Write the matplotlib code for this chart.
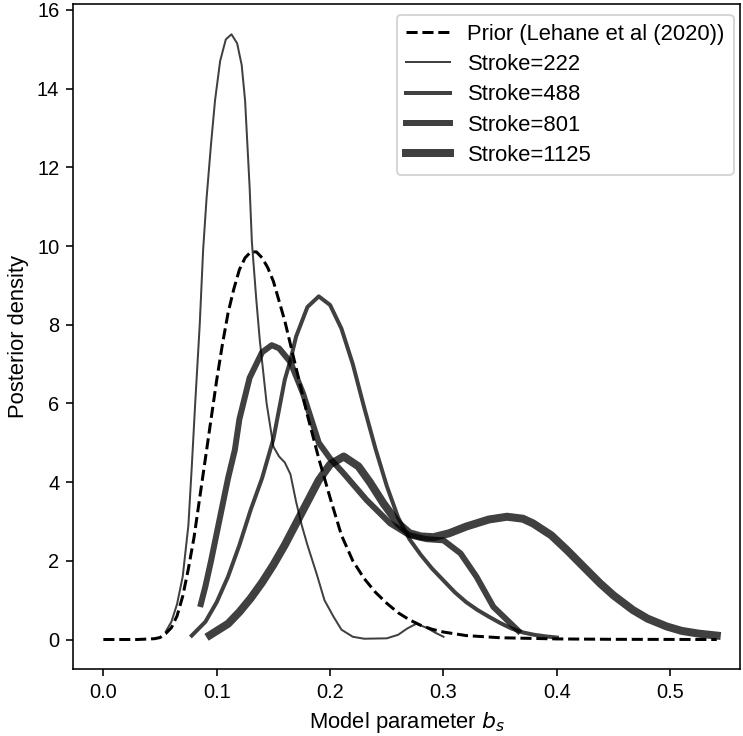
import matplotlib
matplotlib.use("Agg")
import matplotlib.pyplot as plt

plt.rcParams["font.family"] = ["Liberation Sans", "DejaVu Sans"]
plt.rcParams["font.size"] = 10

# ── Data ─────────────────────────────────────────────────────────────────────

prior_x = [0.0, 0.03, 0.045, 0.05, 0.055, 0.06, 0.065, 0.07, 0.075, 0.08, 0.085,
           0.09, 0.095, 0.10, 0.105, 0.11, 0.115, 0.12, 0.125, 0.13, 0.135, 0.14,
           0.145, 0.15, 0.16, 0.17, 0.18, 0.19, 0.20, 0.21, 0.22, 0.23, 0.24,
           0.25, 0.26, 0.27, 0.28, 0.29, 0.30, 0.32, 0.35, 0.40, 0.45, 0.541]
prior_y = [0.0, 0.0, 0.02, 0.05, 0.15, 0.3, 0.6, 1.1, 1.8, 2.6, 3.6,
           4.6, 5.6, 6.6, 7.5, 8.3, 8.9, 9.4, 9.7, 9.85, 9.85, 9.7,
           9.45, 9.1, 8.1, 6.9, 5.7, 4.6, 3.6, 2.65, 2.0, 1.55, 1.2,
           0.92, 0.68, 0.5, 0.36, 0.26, 0.19, 0.1, 0.045, 0.015, 0.005, 0.0]

s222_x = [0.055, 0.06, 0.065, 0.07, 0.075, 0.078, 0.081, 0.085, 0.088, 0.091,
          0.095, 0.0985, 0.103, 0.108, 0.113, 0.118, 0.122, 0.125, 0.129, 0.131,
          0.135, 0.138, 0.144, 0.15, 0.155, 0.16, 0.165, 0.17, 0.175, 0.18,
          0.188, 0.195, 0.203, 0.21, 0.22, 0.23, 0.25, 0.26, 0.268, 0.276,
          0.285, 0.293, 0.30]
s222_y = [0.2, 0.45, 0.9, 1.6, 2.9, 4.4, 6.0, 8.0, 9.9, 11.2,
          12.6, 13.7, 14.7, 15.25, 15.38, 15.15, 14.6, 13.7, 11.5, 10.1,
          8.6, 7.6, 6.0, 4.9, 4.65, 4.5, 4.2, 3.5, 2.9, 2.4,
          1.68, 1.0, 0.58, 0.25, 0.07, 0.02, 0.03, 0.12, 0.28, 0.4,
          0.3, 0.17, 0.07]

s488_x = [0.078, 0.09, 0.10, 0.11, 0.12, 0.13, 0.14, 0.15, 0.16, 0.165, 0.17,
          0.18, 0.19, 0.20, 0.21, 0.22, 0.23, 0.24, 0.25, 0.26, 0.27, 0.28,
          0.29, 0.30, 0.31, 0.32, 0.33, 0.34, 0.35, 0.36, 0.37, 0.38, 0.39, 0.40]
s488_y = [0.1, 0.45, 0.95, 1.6, 2.4, 3.3, 4.1, 5.1, 6.6, 7.1, 7.7,
          8.45, 8.72, 8.5, 7.9, 7.0, 5.9, 4.85, 3.9, 3.1, 2.55, 2.15,
          1.8, 1.5, 1.2, 0.95, 0.75, 0.58, 0.42, 0.28, 0.18, 0.12, 0.08, 0.05]

s801_x = [0.086, 0.09, 0.095, 0.10, 0.105, 0.11, 0.116, 0.12, 0.129, 0.14,
          0.1485, 0.155, 0.165, 0.176, 0.19, 0.2, 0.212, 0.232, 0.253, 0.27,
          0.285, 0.30, 0.315, 0.329, 0.344, 0.362, 0.366]
s801_y = [0.9, 1.35, 2.0, 2.7, 3.4, 4.1, 4.82, 5.6, 6.65, 7.3,
          7.48, 7.4, 7.05, 6.26, 5.0, 4.6, 4.22, 3.55, 2.95, 2.65,
          2.55, 2.52, 2.19, 1.6, 0.83, 0.33, 0.22]

s1125_x = [0.094, 0.11, 0.12, 0.13, 0.14, 0.15, 0.16, 0.17, 0.18, 0.19, 0.20,
           0.212, 0.225, 0.235, 0.247, 0.26, 0.27, 0.28, 0.291, 0.305, 0.32,
           0.34, 0.356, 0.37, 0.379, 0.395, 0.409, 0.42, 0.438, 0.45, 0.467,
           0.48, 0.497, 0.51, 0.525, 0.541]
s1125_y = [0.11, 0.4, 0.7, 1.05, 1.45, 1.9, 2.4, 2.95, 3.5, 4.05, 4.45,
           4.65, 4.4, 4.0, 3.46, 2.95, 2.7, 2.62, 2.6, 2.7, 2.87,
           3.05, 3.12, 3.07, 2.95, 2.65, 2.27, 1.95, 1.43, 1.12, 0.75,
           0.53, 0.33, 0.22, 0.15, 0.1]

strokes = ["222", "488", "801", "1125"]
series = [(s222_x, s222_y), (s488_x, s488_y), (s801_x, s801_y), (s1125_x, s1125_y)]
widths = [1, 2, 3, 4]

# ── Figure ───────────────────────────────────────────────────────────────────

fig = plt.figure(figsize=(743 / 144, 736 / 144), dpi=144)
ax = fig.add_axes([73.3 / 743, 66.7 / 736, 666.7 / 743, 665.3 / 736])

ax.plot(prior_x, prior_y, "k--", lw=1.5, label="Prior (Lehane et al (2020))")
for name, (xs, ys), lw in zip(strokes, series, widths):
    ax.plot(xs, ys, color="k", alpha=0.75, lw=lw, label=f"Stroke={name}")

ax.set_xlim(-0.0265, 0.5615)
ax.set_ylim(-0.757, 16.15)
ax.set_xticks([0.0, 0.1, 0.2, 0.3, 0.4, 0.5])
ax.set_yticks(range(0, 17, 2))
ax.set_xlabel("Model parameter $b_s$", fontsize=11)
ax.set_ylabel("Posterior density", fontsize=11)
ax.legend(loc="upper right", fontsize=11, labelspacing=0.42,
          bbox_to_anchor=(1.007, 1.0))

fig.savefig("out.png", dpi=144)
